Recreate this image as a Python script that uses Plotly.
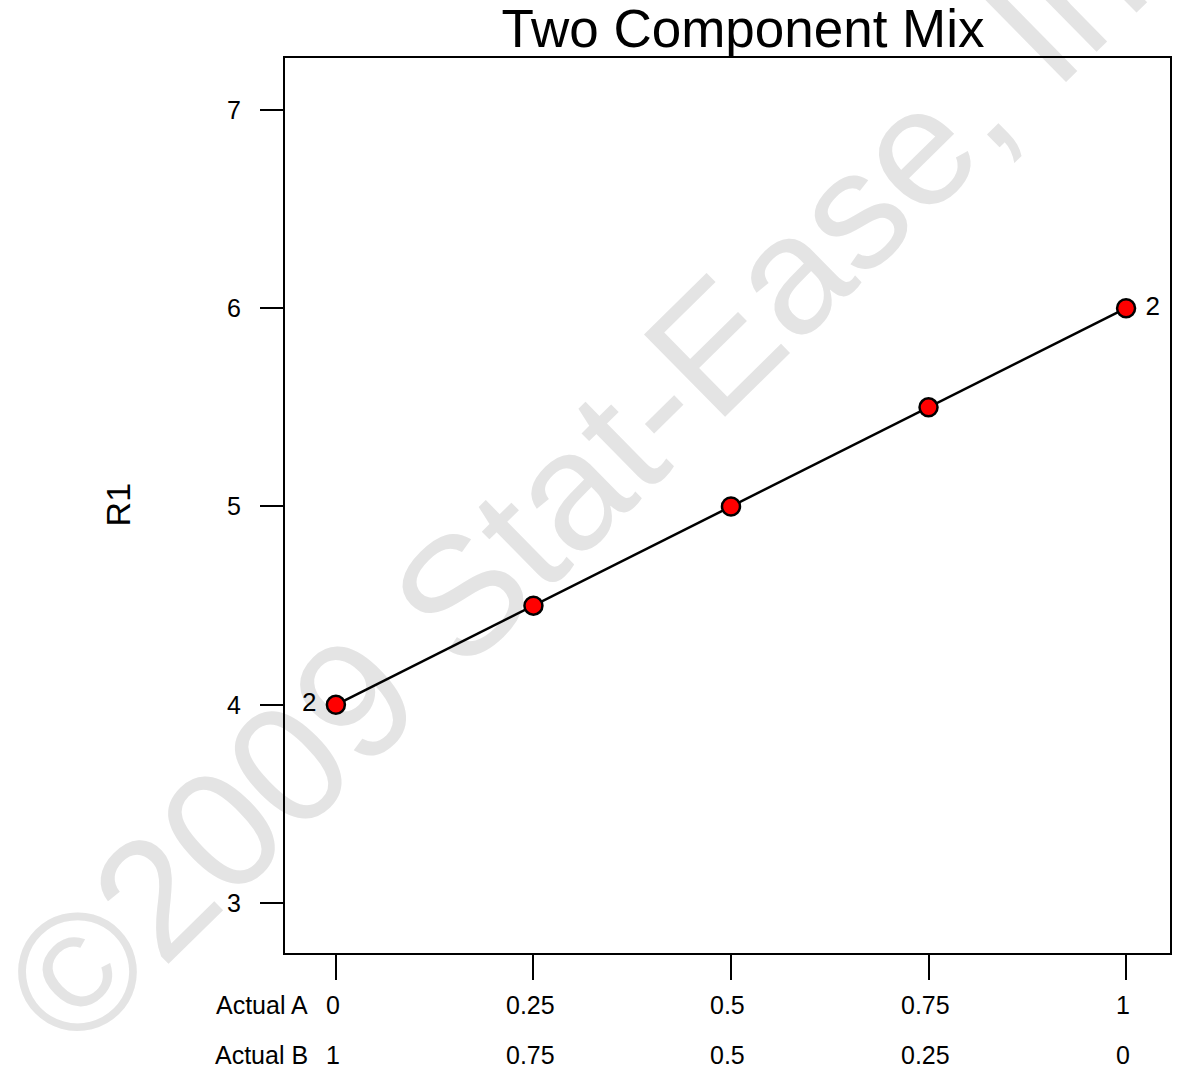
import plotly.graph_objects as go

# Data
actual_a = [0, 0.25, 0.5, 0.75, 1]
actual_b = [1, 0.75, 0.5, 0.25, 0]
r1 = [4.0, 4.5, 5.0, 5.5, 6.0]
point_labels = ["2 ", "", "", "", " 2"]
label_pos = ["middle left", "middle center", "middle center", "middle center", "middle right"]
y_ticks = [3, 4, 5, 6, 7]
x_tick_a = ["0", "0.25", "0.5", "0.75", "1"]
x_tick_b = ["1", "0.75", "0.5", "0.25", "0"]

FONT = "Arial, Liberation Sans, sans-serif"

# plot area in pixels (for converting layout positions)
L, R, T, B = 285, 1172, 58, 953
def px_x(x):
    return (x - L) / (R - L)
def px_y(y):
    return (B - y) / (B - T)

fig = go.Figure()
fig.add_trace(go.Scatter(
    x=actual_a, y=r1, mode="lines+markers+text",
    text=point_labels, textposition=label_pos,
    textfont=dict(family=FONT, size=26, color="black"),
    line=dict(color="black", width=2.5),
    marker=dict(size=18, color="#ff0000", line=dict(color="black", width=2.5)),
    cliponaxis=False, showlegend=False, hoverinfo="x+y",
))

annotations = []
annotations.append(dict(x=px_x(310), y=px_y(1005), xref="paper", yref="paper",
                        text="Actual A", showarrow=False, xanchor="right", yanchor="middle",
                        font=dict(family=FONT, size=25, color="black")))
annotations.append(dict(x=px_x(310), y=px_y(1055), xref="paper", yref="paper",
                        text="Actual B", showarrow=False, xanchor="right", yanchor="middle",
                        font=dict(family=FONT, size=25, color="black")))
for xv, ta, tb in zip(actual_a, x_tick_a, x_tick_b):
    annotations.append(dict(x=xv, y=px_y(1005), xref="x", yref="paper", text=ta,
                            showarrow=False, xanchor="center", yanchor="middle", xshift=-3,
                            font=dict(family=FONT, size=25, color="black")))
    annotations.append(dict(x=xv, y=px_y(1055), xref="x", yref="paper", text=tb,
                            showarrow=False, xanchor="center", yanchor="middle", xshift=-3,
                            font=dict(family=FONT, size=25, color="black")))
annotations.append(dict(x=px_x(118), y=px_y(505), xref="paper", yref="paper",
                        text="R1", showarrow=False, textangle=-90,
                        xanchor="center", yanchor="middle",
                        font=dict(family=FONT, size=34, color="black")))

cx, cy = px_x(610), px_y(427)
fig.update_layout(
    width=1184, height=1079,
    margin=dict(l=L, r=1184 - R, t=T, b=1079 - B),
    paper_bgcolor="white", plot_bgcolor="rgba(0,0,0,0)",
    title=dict(text="Two Component Mix", x=743 / 1184, xref="container", xanchor="center",
               y=1 - 28 / 1079, yref="container", yanchor="middle",
               font=dict(family=FONT, size=53, color="black")),
    annotations=annotations,
    shapes=[dict(type="rect", xref="paper", yref="paper",
                 x0=cx - 0.01, x1=cx + 0.01, y0=cy - 0.01, y1=cy + 0.01, layer="below",
                 line=dict(width=0), fillcolor="rgba(0,0,0,0)",
                 label=dict(text="©2009 Stat-Ease, Inc.", textangle=-44.5,
                            textposition="middle center",
                            font=dict(family=FONT, size=168, color="#e4e4e4")))],
)
fig.update_xaxes(
    range=[-0.0644, 1.0556], tickvals=actual_a, showticklabels=False,
    ticks="outside", ticklen=25, tickwidth=2, tickcolor="black",
    showline=True, linewidth=2, linecolor="black", mirror=True,
    showgrid=False, zeroline=False,
)
fig.update_yaxes(
    range=[2.748, 7.262], tickvals=y_ticks,
    ticks="outside", ticklen=23, tickwidth=2, tickcolor="black",
    ticklabelstandoff=14,
    tickfont=dict(family=FONT, size=25, color="black"),
    showline=True, linewidth=2, linecolor="black", mirror=True,
    showgrid=False, zeroline=False,
)

fig.write_html("out.html")
